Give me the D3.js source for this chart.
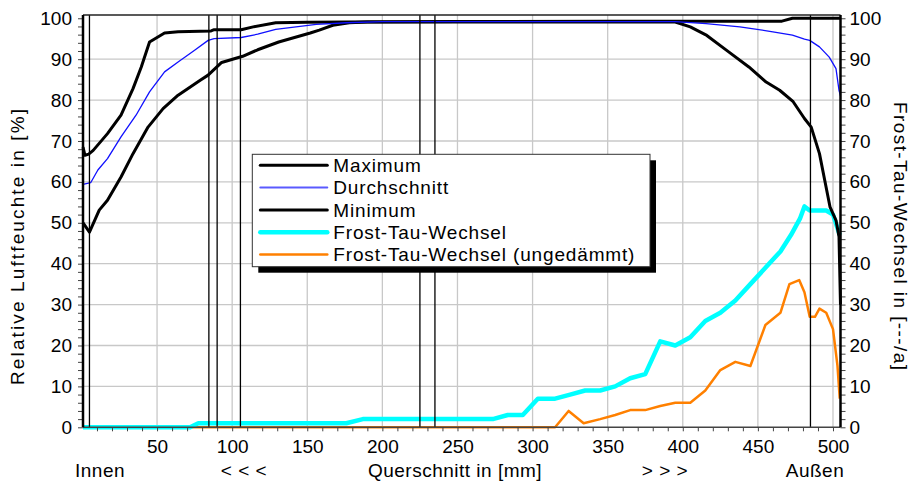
<!DOCTYPE html>
<html>
<head>
<meta charset="utf-8">
<script src="https://cdn.jsdelivr.net/npm/d3@7"></script>
<style>
  body { margin: 0; background: #fff; }
  svg text { font-family: "Liberation Sans", Arial, sans-serif; font-size: 19px; fill: #000; }
</style>
</head>
<body>
<div id="viz_container"></div>
<script>
// cross-section position [mm] and value pairs
const maximum = [[0.7, 68.5], [2, 66.5], [4.5, 66.8], [7.5, 67.7], [17, 71.8], [26, 76.3], [34, 82.8], [39.5, 88.1], [45, 94.2],
  [55, 96.4], [64, 96.7], [86, 96.9], [88, 97.2], [106, 97.2], [114, 97.9], [129, 98.9], [150, 99.0], [176, 99.1],
  [250, 99.2], [350, 99.3], [466, 99.3], [473, 100], [505, 100]];
const average = [[0.7, 59.4], [5.8, 59.8], [10.6, 62.9], [17, 65.7], [26, 71], [36, 76.3], [45, 82], [55, 86.9], [64, 89.3],
  [75, 92.2], [84, 94.6], [88, 95], [106, 95.3], [117, 96.1], [129, 97.3], [156, 98.5], [176, 98.9], [200, 99.2],
  [395, 99.2], [415.5, 98.7], [438, 97.9], [460, 96.7], [473, 95.9], [481, 94.9], [484.5, 94.6], [491, 93],
  [497.5, 90.5], [502, 87.7], [504, 82.4], [505, 81]];
const minimum = [[0.7, 50], [2, 49.3], [5, 47.7], [11.5, 53.1], [17, 55.5], [26, 61.2], [34, 66.9], [44, 73.4], [54, 77.9],
  [64, 81.2], [79, 84.9], [84, 86.1], [93, 89.2], [107, 90.7], [117, 92.3], [131, 94.2], [152, 96.4], [158, 97.1],
  [167, 98.3], [178, 98.9], [190, 99.1], [395, 99.1], [405, 97.9], [416, 95.8], [429, 92.2], [444, 88.1],
  [455.5, 84.4], [464.5, 82.4], [473.5, 79.6], [481, 75.5], [485.5, 73.4], [491, 66.9], [494.5, 60.4],
  [498, 53.9], [502, 50.6], [504, 46.6], [505, 30]];
const frostTau = [[0.7, 0], [72, 0], [77.5, 1], [176, 1], [187, 2], [273.5, 2], [283.5, 3], [293.5, 3], [303.5, 7], [315, 7],
  [325, 8], [335, 9], [345, 9], [355, 10], [365, 12], [375, 13], [385, 21], [395, 20], [405, 22], [415, 26],
  [425, 28], [435, 31], [445, 35], [455, 39], [465, 43], [472, 47], [478, 51], [481, 54], [484.5, 53],
  [495.5, 53], [500, 52], [504.5, 47]];
const frostTauUngedaemmt = [[0.7, 0], [315, 0], [324, 4], [334, 1], [345, 2], [355, 3], [365, 4.2], [375, 4.2], [385, 5.2],
  [395, 6], [405, 6], [415, 9], [425, 14], [435, 16], [445, 15], [455, 25], [465, 28], [471, 35], [477.5, 36],
  [481, 33], [484.5, 27], [488, 27], [491, 29], [495.5, 28], [500, 24], [503, 15], [504.5, 7]];

// layer boundaries [mm]
const layerLines = [5, 84.5, 90, 105.5, 225, 235, 485];

const xTicks = [50, 100, 150, 200, 250, 300, 350, 400, 450, 500];
const yTicks = [0, 10, 20, 30, 40, 50, 60, 70, 80, 90, 100];
const bottomLabels = [["Innen", 100], ["< < <", 244], ["Querschnitt in [mm]", 455], ["> > >", 665], ["Außen", 815]];

const legendItems = [
  { name: "Maximum", color: "#000", width: 3 },
  { name: "Durchschnitt", color: "#5a5aff", width: 2 },
  { name: "Minimum", color: "#000", width: 3 },
  { name: "Frost-Tau-Wechsel", color: "#00ffff", width: 4.5 },
  { name: "Frost-Tau-Wechsel (ungedämmt)", color: "#ff8000", width: 2.5 }
];

const W = 912, H = 482;
const plotLeft = 83, plotRight = 840.5, plotTop = 15, plotBottom = 427.3;

const svg = d3.select("#viz_container")
  .append("svg")
  .attr("width", W)
  .attr("height", H)
  .attr("viewBox", `0 0 ${W} ${H}`);

const x = d3.scaleLinear().domain([0.7, 505]).range([plotLeft, plotRight]);
const y = d3.scaleLinear().domain([0, 100.8]).range([plotBottom, plotTop]);

// grid
svg.append("g")
  .selectAll("line")
  .data(xTicks)
  .join("line")
  .attr("x1", d => x(d)).attr("x2", d => x(d))
  .attr("y1", plotTop).attr("y2", plotBottom)
  .attr("stroke", "#c8c8c8").attr("stroke-width", 1.3);

svg.append("g")
  .selectAll("line")
  .data(yTicks.filter(d => d > 0 && d < 100))
  .join("line")
  .attr("x1", plotLeft).attr("x2", plotRight)
  .attr("y1", d => y(d)).attr("y2", d => y(d))
  .attr("stroke", "#c8c8c8").attr("stroke-width", 1.3);

// curves
const line = d3.line().x(d => x(d[0])).y(d => y(d[1]));

svg.append("path").datum(frostTauUngedaemmt)
  .attr("d", line).attr("fill", "none")
  .attr("stroke", "#ff8000").attr("stroke-width", 2.5).attr("stroke-linejoin", "round");
svg.append("path").datum(frostTau)
  .attr("d", line).attr("fill", "none")
  .attr("stroke", "#00ffff").attr("stroke-width", 4.5).attr("stroke-linejoin", "round");
svg.append("path").datum(minimum)
  .attr("d", line).attr("fill", "none")
  .attr("stroke", "#000").attr("stroke-width", 3).attr("stroke-linejoin", "round");
svg.append("path").datum(maximum)
  .attr("d", line).attr("fill", "none")
  .attr("stroke", "#000").attr("stroke-width", 3).attr("stroke-linejoin", "round");
svg.append("path").datum(average)
  .attr("d", line).attr("fill", "none")
  .attr("stroke", "#1010ff").attr("stroke-width", 1.3).attr("stroke-linejoin", "round");

// layer boundaries
svg.append("g")
  .selectAll("line")
  .data(layerLines)
  .join("line")
  .attr("x1", d => x(d)).attr("x2", d => x(d))
  .attr("y1", plotTop).attr("y2", plotBottom)
  .attr("stroke", "#000").attr("stroke-width", 1.3);

// frame
svg.append("line").attr("x1", plotLeft).attr("x2", plotRight).attr("y1", plotTop).attr("y2", plotTop)
  .attr("stroke", "#222").attr("stroke-width", 1.5);
svg.append("line").attr("x1", plotLeft).attr("x2", plotRight).attr("y1", plotBottom).attr("y2", plotBottom)
  .attr("stroke", "#444").attr("stroke-width", 1.5);

// minor ticks
const yMinor = d3.range(0, 101, 2);
const xMinor = d3.range(10, 501, 10);

svg.append("g")
  .attr("transform", `translate(${plotLeft},0)`)
  .call(d3.axisLeft(y).tickValues(yMinor).tickSize(5).tickFormat(""))
  .call(g => g.select(".domain").remove())
  .call(g => g.selectAll("line").attr("stroke", "#444"));
svg.append("g")
  .attr("transform", `translate(${plotRight},0)`)
  .call(d3.axisRight(y).tickValues(yMinor).tickSize(5).tickFormat(""))
  .call(g => g.select(".domain").remove())
  .call(g => g.selectAll("line").attr("stroke", "#444"));
svg.append("g")
  .attr("transform", `translate(0,${plotBottom})`)
  .call(d3.axisBottom(x).tickValues(xMinor).tickSize(4).tickFormat(""))
  .call(g => g.select(".domain").remove())
  .call(g => g.selectAll("line").attr("stroke", "#444"));

// thick side axes
svg.append("line").attr("x1", plotLeft).attr("x2", plotLeft).attr("y1", plotTop).attr("y2", plotBottom)
  .attr("stroke", "#000").attr("stroke-width", 2.5);
svg.append("line").attr("x1", plotRight).attr("x2", plotRight).attr("y1", plotTop).attr("y2", plotBottom)
  .attr("stroke", "#000").attr("stroke-width", 2.5);

// tick labels
svg.append("g")
  .attr("transform", `translate(${plotLeft},0)`)
  .call(d3.axisLeft(y).tickValues(yTicks).tickSize(0).tickPadding(11))
  .call(g => g.select(".domain").remove())
  .call(g => g.selectAll("text").attr("font-size", null).attr("font-family", null));
svg.append("g")
  .attr("transform", `translate(${plotRight},0)`)
  .call(d3.axisRight(y).tickValues(yTicks).tickSize(0).tickPadding(9))
  .call(g => g.select(".domain").remove())
  .call(g => g.selectAll("text").attr("font-size", null).attr("font-family", null));
svg.append("g")
  .attr("transform", `translate(0,${plotBottom})`)
  .call(d3.axisBottom(x).tickValues(xTicks).tickSize(0).tickPadding(12.5))
  .call(g => g.select(".domain").remove())
  .call(g => g.selectAll("text").attr("font-size", null).attr("font-family", null));

// labels below the axis
svg.append("g")
  .selectAll("text")
  .data(bottomLabels)
  .join("text")
  .attr("x", d => d[1])
  .attr("y", 476.5)
  .attr("text-anchor", "middle")
  .attr("letter-spacing", "0.5px")
  .text(d => d[0]);

// axis titles
svg.append("text")
  .attr("transform", "translate(24,247) rotate(-90)")
  .attr("text-anchor", "middle")
  .attr("textLength", 276)
  .attr("lengthAdjust", "spacing")
  .text("Relative Luftfeuchte in [%]");
svg.append("text")
  .attr("transform", "translate(894,236) rotate(90)")
  .attr("text-anchor", "middle")
  .attr("textLength", 268)
  .attr("lengthAdjust", "spacing")
  .text("Frost-Tau-Wechsel in [---/a]");

// legend
const lg = svg.append("g").attr("transform", "translate(252.3,154.3)");
lg.append("rect").attr("x", 6).attr("y", 6).attr("width", 397.7).attr("height", 112.4).attr("fill", "#000");
lg.append("rect").attr("width", 397.7).attr("height", 112.4).attr("fill", "#fff")
  .attr("stroke", "#333").attr("stroke-width", 1);
const rows = lg.selectAll("g.row")
  .data(legendItems)
  .join("g")
  .attr("class", "row")
  .attr("transform", (d, i) => `translate(0,${11 + i * 22.3})`);
rows.append("line")
  .attr("x1", 8).attr("x2", 75)
  .attr("stroke", d => d.color)
  .attr("stroke-width", d => d.width)
  .attr("stroke-linecap", "round");
rows.append("text")
  .attr("x", 81)
  .attr("dy", "0.36em")
  .attr("letter-spacing", "0.85px")
  .text(d => d.name);
</script>
</body>
</html>
